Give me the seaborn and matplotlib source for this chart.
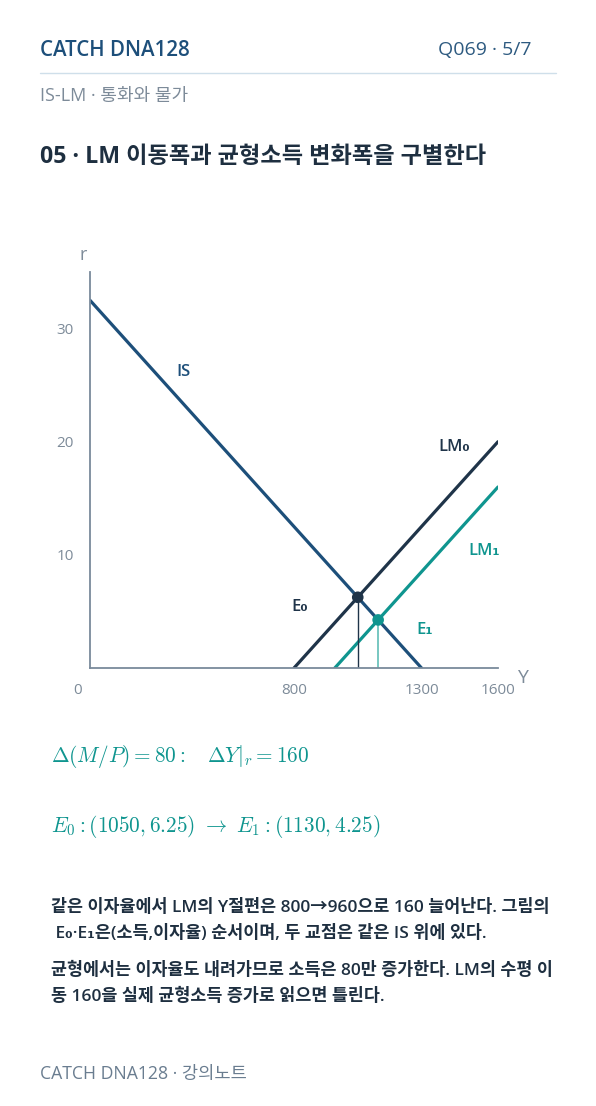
import matplotlib
matplotlib.use("Agg")
import matplotlib.pyplot as plt
import seaborn as sns
import pandas as pd

# curve data
is_y = [0, 1300]
is_r = [32.5, 0]
lm0_y = [800, 1600]
lm0_r = [0, 20]
lm1_y = [960, 1600]
lm1_r = [0, 16]
eq_y = [1050, 1130]
eq_r = [6.25, 4.25]
eq_names = ["E₀", "E₁"]
xticks = [800, 1300, 1600]
yticks = [10, 20, 30]

NAVY = "#1f3449"
BLUE = "#1d4f7a"
TEAL = "#0f958f"
TEAL_LT = "#6cc3bc"
GRAY = "#7d8b99"
AXC = "#7a8a9b"

sns.set_theme(style="white")
plt.rcParams['font.family'] = ['Open Sans', 'Noto Sans CJK KR', 'DejaVu Sans']
plt.rcParams['mathtext.fontset'] = 'cm'

W, H = 596, 1106
fig = plt.figure(figsize=(W / 100, H / 100), dpi=100)


def px(x, y):
    return x / W, 1 - y / H


# header
fig.text(*px(40, 50), "CATCH DNA128", color=BLUE, fontsize=14.8, fontweight="semibold", va="center")
fig.text(*px(531, 50), "Q069 · 5/7", color="#2d5a80", fontsize=14, ha="right", va="center")
fig.add_artist(plt.Line2D([40 / W, 556 / W], [1 - 73 / H, 1 - 73 / H], color="#cfdfea", lw=1))
fig.text(*px(40, 96), "IS-LM · 통화와 물가", color=GRAY, fontsize=13, va="center")
fig.text(*px(40, 157), "05 · LM 이동폭과 균형소득 변화폭을 구별한다", color="#1e2f40",
         fontsize=16.7, fontweight="bold", va="center")

# chart
ax = fig.add_axes([90 / W, 438 / H, 408 / W, 396 / H])
lines = pd.concat([
    pd.DataFrame({"Y": is_y, "r": is_r, "curve": "IS"}),
    pd.DataFrame({"Y": lm0_y, "r": lm0_r, "curve": "LM0"}),
    pd.DataFrame({"Y": lm1_y, "r": lm1_r, "curve": "LM1"}),
])
sns.lineplot(data=lines, x="Y", y="r", hue="curve", palette={"IS": BLUE, "LM0": NAVY, "LM1": TEAL},
             lw=2.3, legend=False, ax=ax, sort=False)

# drop lines from equilibria
ax.vlines(eq_y[0], 0, eq_r[0], color=NAVY, lw=1)
ax.vlines(eq_y[1], 0, eq_r[1], color=TEAL_LT, lw=1.3)
eq = pd.DataFrame({"Y": eq_y, "r": eq_r, "pt": eq_names})
sns.scatterplot(data=eq, x="Y", y="r", hue="pt", palette={"E₀": NAVY, "E₁": TEAL},
                s=70, marker="o", edgecolor="none", legend=False, ax=ax, zorder=5)

ax.set_xlim(0, 1600)
ax.set_ylim(0, 35)
ax.set_xticks(xticks)
ax.set_yticks(yticks)
ax.set_xticklabels([str(v) for v in xticks])
ax.set_yticklabels([str(v) for v in yticks])
for s in ["top", "right"]:
    ax.spines[s].set_visible(False)
for s in ["left", "bottom"]:
    ax.spines[s].set_color(AXC)
    ax.spines[s].set_linewidth(1.3)
ax.tick_params(axis="both", direction="inout", length=11, width=1.1, color=AXC,
               labelcolor=GRAY, labelsize=11)
ax.tick_params(axis="x", pad=5)
ax.tick_params(axis="y", pad=6)
ax.set_xlabel("")
ax.set_ylabel("")
ax.annotate("0", xy=(0, 0), xytext=(-12, -22), textcoords="offset pixels", color=GRAY,
            fontsize=11, ha="center", va="center", annotation_clip=False)
ax.annotate("r", xy=(0, 35), xytext=(-7, 17), textcoords="offset pixels", color=GRAY,
            fontsize=13, ha="center", va="center", annotation_clip=False)
ax.annotate("Y", xy=(1600, 0), xytext=(24, -10), textcoords="offset pixels", color=GRAY,
            fontsize=14, ha="center", va="center", annotation_clip=False)

lbl = dict(fontsize=12, fontweight="semibold", ha="center", va="center")
ax.text(365, 26.2, "IS", color=BLUE, **lbl)
ax.text(1430, 19.5, "LM₀", color=NAVY, **lbl)
ax.text(1545, 10.3, "LM₁", color=TEAL, **lbl)
ax.text(823, 5.4, "E₀", color=NAVY, **lbl)
ax.text(1314, 3.35, "E₁", color=TEAL, **lbl)

# formulas
fig.text(*px(51, 757), r"$\Delta(M/P) = 80:\quad \Delta Y|_r = 160$", color=TEAL, fontsize=15.3, va="center")
fig.text(*px(51, 827), r"$E_0: (1050, 6.25)\ \rightarrow\ E_1: (1130, 4.25)$", color=TEAL,
         fontsize=15.3, va="center")

# explanation
body = [
    (908, "같은 이자율에서 LM의 Y절편은 800→960으로 160 늘어난다. 그림의"),
    (934, " E₀·E₁은(소득,이자율) 순서이며, 두 교점은 같은 IS 위에 있다."),
    (970, "균형에서는 이자율도 내려가므로 소득은 80만 증가한다. LM의 수평 이"),
    (996, "동 160을 실제 균형소득 증가로 읽으면 틀린다."),
]
for y, t in body:
    fig.text(*px(51, y), t, color="#1e2f40", fontsize=12.5, fontweight="semibold", va="center")

fig.text(*px(40, 1074), "CATCH DNA128 · 강의노트", color="#6a7d90", fontsize=12.7, va="center")

fig.savefig("out.png", dpi=100, facecolor="white")
